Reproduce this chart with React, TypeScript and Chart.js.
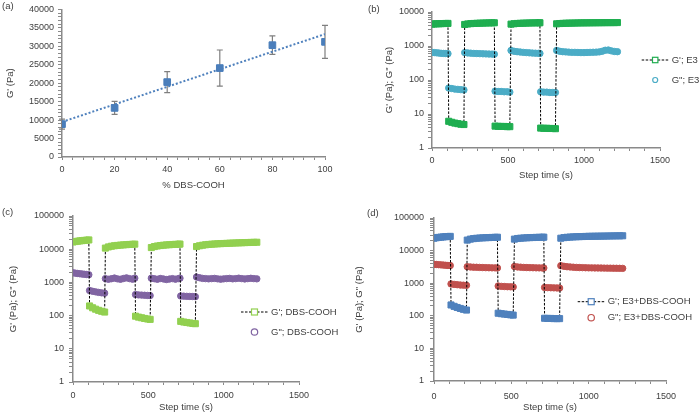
import React, { useEffect, useRef } from 'react';
import { Chart, registerables } from 'chart.js';

Chart.register(...registerables);

const FONT = '"Liberation Sans", Arial, Helvetica, sans-serif';
const TEXT = '#404040';
const AXIS = '#8a8a8a';

// ---------- Panel (a) ----------
const DBS_PERCENT = [0, 20, 40, 60, 80, 100];
const G_MEAN = [8900, 13300, 20300, 24100, 30300, 31200];
const G_ERR = [1350, 1750, 2850, 4900, 2500, 4450];
const TREND_X = [0, 100];
const TREND_Y = [9500, 33300];

// ---------- Panels (b)-(d): step strain time series ----------
const STEP_TIME = [
  0, 15, 30, 45, 60, 75, 90, 105,
  110, 130, 150, 170, 190, 210,
  215, 235, 255, 275, 295, 315, 335, 355, 375, 395, 410,
  415, 435, 455, 475, 495, 512,
  520, 540, 560, 580, 600, 620, 640, 660, 680, 700, 710,
  715, 735, 755, 775, 795, 812,
  820, 840, 860, 880, 900, 920, 940, 960, 980, 1000, 1020, 1040, 1060, 1080, 1100, 1120, 1140, 1160, 1180, 1200, 1220,
];

const E3_GP = [
  4400, 4450, 4500, 4520, 4550, 4570, 4600, 4620,
  6.1, 5.7, 5.4, 5.2, 5.0, 4.9,
  4300, 4450, 4550, 4600, 4650, 4690, 4720, 4750, 4780, 4800, 4820,
  4.4, 4.35, 4.3, 4.3, 4.25, 4.25,
  4400, 4520, 4600, 4650, 4690, 4720, 4750, 4770, 4790, 4810, 4830,
  3.85, 3.8, 3.8, 3.75, 3.75, 3.7,
  4500, 4580, 4630, 4670, 4700, 4720, 4740, 4760, 4780, 4790, 4800, 4810, 4820, 4830, 4840, 4850, 4860, 4870, 4870, 4880, 4890,
];
const E3_GPP = [
  650, 640, 630, 620, 610, 605, 600, 595,
  58, 56, 54, 53, 52, 51,
  640, 625, 615, 605, 600, 595, 590, 585, 580, 578, 575,
  47, 46, 46, 45, 45, 44,
  740, 700, 680, 665, 650, 640, 630, 620, 615, 610, 605,
  45, 44, 44, 43, 43, 43,
  740, 700, 680, 670, 660, 650, 650, 645, 640, 640, 645, 650, 655, 660, 670, 700, 750, 760, 720, 690, 680,
];

const DBS_GP = [
  16500, 17000, 17400, 17800, 18100, 18400, 18700, 19000,
  195, 172, 156, 144, 135, 128,
  10800, 11700, 12300, 12700, 13000, 13300, 13500, 13700, 13900, 14050, 14200,
  96, 90, 86, 82, 79, 77,
  11200, 12000, 12500, 12900, 13200, 13450, 13650, 13850, 14000, 14150, 14250,
  67, 64, 62, 60, 58, 57,
  12000, 12700, 13200, 13600, 13900, 14150, 14350, 14550, 14700, 14850, 15000, 15150, 15300, 15400, 15550, 15650, 15800, 15900, 16000, 16100, 16200,
];
const DBS_GPP = [
  1950, 1900, 1860, 1820, 1790, 1760, 1730, 1700,
  570, 540, 520, 500, 485, 475,
  1300, 1240, 1290, 1350, 1280, 1240, 1310, 1370, 1300, 1250, 1340,
  430, 420, 415, 410, 405, 400,
  1340, 1290, 1240, 1310, 1270, 1220, 1260, 1300, 1250, 1300, 1340,
  390, 385, 380, 378, 375, 372,
  1450, 1380, 1320, 1300, 1280, 1300, 1320, 1280, 1250, 1280, 1300, 1320, 1280, 1300, 1340, 1300, 1270, 1300, 1330, 1300, 1280,
];

const MIX_GP = [
  24000, 24800, 25400, 25900, 26300, 26700, 27000, 27300,
  215, 195, 180, 168, 158, 150,
  21000, 22500, 23300, 23900, 24300, 24600, 24900, 25100, 25300, 25500, 25700,
  120, 116, 113, 110, 107, 105,
  22500, 23500, 24000, 24400, 24700, 25000, 25200, 25400, 25600, 25700, 25800,
  84, 83, 83, 82, 82, 82,
  24000, 25000, 25600, 26000, 26300, 26600, 26800, 27000, 27200, 27400, 27500, 27600, 27700, 27800, 27900, 28000, 28100, 28200, 28300, 28400, 28500,
];
const MIX_GPP = [
  3800, 3750, 3700, 3650, 3600, 3550, 3500, 3480,
  950, 920, 900, 880, 870, 860,
  3200, 3150, 3100, 3080, 3050, 3020, 3000, 2980, 2960, 2950, 2940,
  820, 800, 790, 780, 775, 770,
  3250, 3150, 3100, 3050, 3020, 3000, 2980, 2960, 2950, 2940, 2930,
  740, 730, 725, 720, 715, 710,
  3450, 3300, 3200, 3150, 3100, 3050, 3020, 3000, 2980, 2960, 2950, 2940, 2930, 2920, 2910, 2900, 2890, 2880, 2870, 2860, 2850,
];

const PANEL_LABELS = ['(a)', '(b)', '(c)', '(d)'];

// ---------- helpers ----------
const tickFont = { size: 9, family: FONT };
const titleFont = { size: 9.5, family: FONT, lineHeight: 1.2 };

const errorBarPlugin = {
  id: 'errorBars',
  beforeDatasetsDraw(chart: any) {
    const { ctx, scales } = chart;
    const x = scales.x;
    const y = scales.y;
    ctx.save();
    ctx.strokeStyle = '#7f7f7f';
    ctx.lineWidth = 1.2;
    DBS_PERCENT.forEach((p, i) => {
      const px = x.getPixelForValue(p);
      const top = y.getPixelForValue(G_MEAN[i] + G_ERR[i]);
      const bot = y.getPixelForValue(G_MEAN[i] - G_ERR[i]);
      ctx.beginPath();
      ctx.moveTo(px, top);
      ctx.lineTo(px, bot);
      ctx.moveTo(px - 3, top);
      ctx.lineTo(px + 3, top);
      ctx.moveTo(px - 3, bot);
      ctx.lineTo(px + 3, bot);
      ctx.stroke();
    });
    ctx.restore();
  },
};

type LegendItem = { label: string; kind: 'square' | 'circle'; color: string; y: number; r: number };

function legendPlugin(x0: number, items: LegendItem[]) {
  return {
    id: 'customLegend',
    afterDraw(chart: any) {
      const ctx = chart.ctx;
      ctx.save();
      ctx.font = `9.5px ${FONT}`;
      ctx.textBaseline = 'middle';
      ctx.textAlign = 'left';
      for (const it of items) {
        const cx = x0 + 13.5;
        if (it.kind === 'square') {
          ctx.strokeStyle = '#000';
          ctx.lineWidth = 1;
          ctx.setLineDash([2.5, 1.5]);
          ctx.beginPath();
          ctx.moveTo(x0, it.y);
          ctx.lineTo(x0 + 27, it.y);
          ctx.stroke();
          ctx.setLineDash([]);
          ctx.fillStyle = '#fff';
          ctx.fillRect(cx - it.r, it.y - it.r, 2 * it.r, 2 * it.r);
          ctx.strokeStyle = it.color;
          ctx.lineWidth = 1.2;
          ctx.strokeRect(cx - it.r, it.y - it.r, 2 * it.r, 2 * it.r);
        } else {
          ctx.beginPath();
          ctx.arc(cx, it.y, it.r, 0, Math.PI * 2);
          ctx.fillStyle = '#fff';
          ctx.fill();
          ctx.strokeStyle = it.color;
          ctx.lineWidth = 1.2;
          ctx.stroke();
        }
        ctx.fillStyle = TEXT;
        ctx.fillText(it.label, x0 + 30, it.y);
      }
      ctx.restore();
    },
  };
}

function isDecade(v: number) {
  const l = Math.log10(v);
  return Math.abs(l - Math.round(l)) < 1e-6;
}

function buildPanelA(): any {
  return {
    type: 'scatter',
    data: {
      datasets: [
        {
          label: "G'",
          data: DBS_PERCENT.map((p, i) => ({ x: p, y: G_MEAN[i] })),
          pointStyle: 'rect',
          pointRadius: 4.7,
          backgroundColor: '#4a7ebb',
          borderColor: '#4a7ebb',
          borderWidth: 1,
          order: 0,
        },
        {
          label: 'trend',
          data: TREND_X.map((p, i) => ({ x: p, y: TREND_Y[i] })),
          showLine: true,
          pointRadius: 0,
          borderColor: '#4f81bd',
          borderWidth: 2,
          borderDash: [2, 2],
          order: 1,
        },
      ],
    },
    options: {
      responsive: false,
      animation: false,
      devicePixelRatio: 1,
      events: [],
      layout: { padding: { left: 0, top: 7, right: 25, bottom: 0 } },
      plugins: { legend: { display: false }, tooltip: { enabled: false } },
      scales: {
        x: {
          type: 'linear',
          min: 0,
          max: 100,
          afterFit: (s: any) => { s.height = 43; },
          ticks: {
            stepSize: 4,
            autoSkip: false,
            maxRotation: 0,
            padding: 4,
            color: TEXT,
            font: tickFont,
            callback: (v: number) => (v % 20 === 0 ? String(v) : ''),
          },
          grid: { drawOnChartArea: false, drawTicks: true, tickLength: 3, color: AXIS },
          border: { color: AXIS, width: 1.5 },
          title: { display: true, text: '% DBS-COOH', color: TEXT, font: titleFont, padding: { top: 0, bottom: 9.3 } },
        },
        y: {
          type: 'linear',
          min: 0,
          max: 40000,
          afterFit: (s: any) => { s.width = 62; },
          ticks: {
            stepSize: 1000,
            autoSkip: false,
            padding: 4,
            color: TEXT,
            font: tickFont,
            callback: (v: number) => (v % 5000 === 0 ? String(v) : ''),
          },
          grid: { drawOnChartArea: false, drawTicks: true, tickLength: 4, color: AXIS },
          border: { color: AXIS, width: 1.5 },
          title: { display: true, text: "G' (Pa)", color: TEXT, font: titleFont, padding: { top: 4.3, bottom: 0 } },
        },
      },
    },
    plugins: [errorBarPlugin],
  };
}

type RheoSpec = {
  gp: number[];
  gpp: number[];
  gpColor: string;
  gppColor: string;
  name: string;
  yMax: number;
  padTop: number;
  padRight: number;
  yWidth: number;
  xHeight: number;
  xTickPad: number;
  yTickPad: number;
  xTitlePad: number;
  yTitlePad: number;
  legendX: number;
  legendY: [number, number];
  legendR: [number, number];
};

function buildRheo(s: RheoSpec): any {
  return {
    type: 'scatter',
    data: {
      datasets: [
        {
          label: "G'; " + s.name,
          data: STEP_TIME.map((t, i) => ({ x: t, y: s.gp[i] })),
          showLine: true,
          borderColor: '#000',
          borderWidth: 1,
          borderDash: [2.5, 1.5],
          tension: 0,
          pointStyle: 'rect',
          pointRadius: 4.3,
          pointBackgroundColor: s.gpColor,
          pointBorderColor: s.gpColor,
          pointBorderWidth: 1,
        },
        {
          label: 'G"; ' + s.name,
          data: STEP_TIME.map((t, i) => ({ x: t, y: s.gpp[i] })),
          showLine: false,
          pointStyle: 'circle',
          pointRadius: 3.2,
          pointBackgroundColor: s.gppColor,
          pointBorderColor: s.gppColor,
          pointBorderWidth: 1,
        },
      ],
    },
    options: {
      responsive: false,
      animation: false,
      devicePixelRatio: 1,
      events: [],
      layout: { padding: { left: 0, top: s.padTop, right: s.padRight, bottom: 0 } },
      plugins: { legend: { display: false }, tooltip: { enabled: false } },
      scales: {
        x: {
          type: 'linear',
          min: 0,
          max: 1500,
          afterFit: (sc: any) => { sc.height = s.xHeight; },
          ticks: {
            stepSize: 100,
            autoSkip: false,
            maxRotation: 0,
            padding: s.xTickPad,
            color: TEXT,
            font: tickFont,
            callback: (v: number) => (v % 500 === 0 ? String(v) : ''),
          },
          grid: { drawOnChartArea: false, drawTicks: true, tickLength: 3, color: AXIS },
          border: { color: AXIS, width: 1.5 },
          title: { display: true, text: 'Step time (s)', color: TEXT, font: titleFont, padding: { top: 0, bottom: s.xTitlePad } },
        },
        y: {
          type: 'logarithmic',
          min: 1,
          max: s.yMax,
          afterFit: (sc: any) => { sc.width = s.yWidth; },
          afterBuildTicks: (sc: any) => {
            sc.ticks = sc.ticks.filter((t: any) => {
              const m = t.value / Math.pow(10, Math.floor(Math.log10(t.value) + 1e-9));
              return Math.abs(m - 1.5) > 1e-6;
            });
          },
          ticks: {
            autoSkip: false,
            padding: s.yTickPad,
            color: TEXT,
            font: tickFont,
            callback: (v: number) => (isDecade(v) ? String(Math.round(v)) : ''),
          },
          grid: { drawOnChartArea: false, drawTicks: true, tickLength: 4, color: AXIS },
          border: { color: AXIS, width: 1.5 },
          title: { display: true, text: 'G\' (Pa); G" (Pa)', color: TEXT, font: titleFont, padding: { top: s.yTitlePad, bottom: 0 } },
        },
      },
    },
    plugins: [
      legendPlugin(s.legendX, [
        { label: "G'; " + s.name, kind: 'square', color: s.gpColor, y: s.legendY[0], r: s.legendR[0] },
        { label: 'G"; ' + s.name, kind: 'circle', color: s.gppColor, y: s.legendY[1], r: s.legendR[1] },
      ]),
    ],
  };
}

function ChartPanel(props: { left: number; top: number; width: number; height: number; build: () => any }) {
  const ref = useRef<HTMLCanvasElement>(null);
  useEffect(() => {
    const chart = new Chart(ref.current as HTMLCanvasElement, props.build());
    return () => chart.destroy();
  }, []);
  return (
    <canvas
      ref={ref}
      width={props.width}
      height={props.height}
      style={{ position: 'absolute', left: props.left, top: props.top, width: props.width, height: props.height }}
    />
  );
}

const labelStyle = (left: number, top: number): React.CSSProperties => ({
  position: 'absolute',
  left,
  top,
  fontFamily: FONT,
  fontSize: '9.5px',
  lineHeight: '11px',
  color: TEXT,
});

export default function App() {
  return (
    <div style={{ position: 'fixed', left: 0, top: 0, width: 700, height: 415, background: '#fff', overflow: 'hidden' }}>
      <ChartPanel left={0} top={0} width={350} height={200} build={buildPanelA} />
      <ChartPanel
        left={350}
        top={0}
        width={350}
        height={200}
        build={() =>
          buildRheo({
            gp: E3_GP, gpp: E3_GPP, gpColor: '#1fae50', gppColor: '#4bacc6', name: 'E3', yMax: 10000,
            padTop: 12, padRight: 40, yWidth: 82, xHeight: 52, xTickPad: 4, yTickPad: 4,
            xTitlePad: 19.3, yTitlePad: 33.6, legendX: 291.7, legendY: [60, 80], legendR: [2.7, 2.5],
          })
        }
      />
      <ChartPanel
        left={0}
        top={205}
        width={350}
        height={210}
        build={() =>
          buildRheo({
            gp: DBS_GP, gpp: DBS_GPP, gpColor: '#92d050', gppColor: '#8064a2', name: 'DBS-COOH', yMax: 100000,
            padTop: 11, padRight: 51, yWidth: 73, xHeight: 33, xTickPad: 5, yTickPad: 5,
            xTitlePad: 2.3, yTitlePad: 7.6, legendX: 241, legendY: [107, 127], legendR: [3, 3.2],
          })
        }
      />
      <ChartPanel
        left={350}
        top={205}
        width={350}
        height={210}
        build={() =>
          buildRheo({
            gp: MIX_GP, gpp: MIX_GPP, gpColor: '#4f81bd', gppColor: '#c0504d', name: 'E3+DBS-COOH', yMax: 100000,
            padTop: 13, padRight: 34, yWidth: 84, xHeight: 34, xTickPad: 7, yTickPad: 6,
            xTitlePad: 2, yTitlePad: 3.6, legendX: 227.7, legendY: [96.7, 112.7], legendR: [3, 3.2],
          })
        }
      />
      <div style={labelStyle(2, 0)}>{PANEL_LABELS[0]}</div>
      <div style={labelStyle(368, 2.5)}>{PANEL_LABELS[1]}</div>
      <div style={labelStyle(2, 206)}>{PANEL_LABELS[2]}</div>
      <div style={labelStyle(367, 206.5)}>{PANEL_LABELS[3]}</div>
    </div>
  );
}
